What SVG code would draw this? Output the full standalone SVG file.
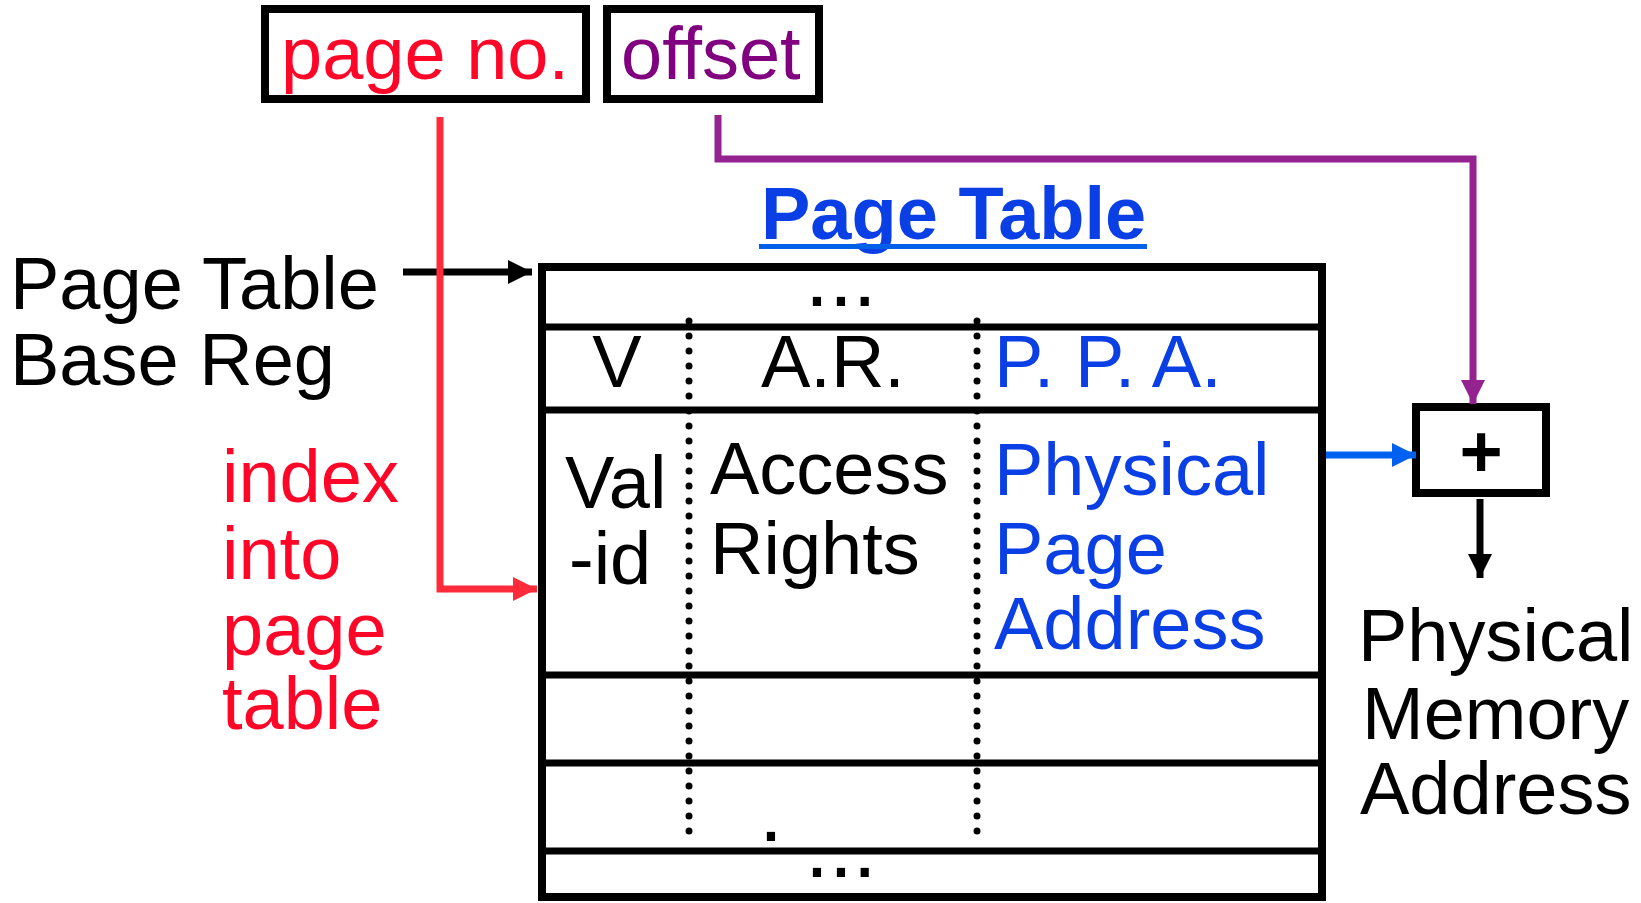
<svg xmlns="http://www.w3.org/2000/svg" width="1641" height="903" viewBox="0 0 1641 903">
<style>
text{font-family:"Liberation Sans",Arial,sans-serif;font-size:74px}
.blk{fill:#000}
.red{fill:#FF0527}
.pur{fill:#800080}
.blu{fill:#0B3FE6}
.box{fill:none;stroke:#000;stroke-width:8}
.row{stroke:#000;stroke-width:7}
.dot{stroke:#000;stroke-width:7;stroke-linecap:round;stroke-dasharray:0 15}
.ell{font-size:86px}
</style>
<defs>
<marker id="ah-k" markerWidth="24" markerHeight="24" refX="24" refY="12" orient="auto" markerUnits="userSpaceOnUse"><path d="M0,0 L24,12 L0,24 z" fill="#000"/></marker>
<marker id="ah-r" markerWidth="24" markerHeight="24" refX="24" refY="12" orient="auto" markerUnits="userSpaceOnUse"><path d="M0,0 L24,12 L0,24 z" fill="#FF2A3A"/></marker>
<marker id="ah-p" markerWidth="24" markerHeight="24" refX="24" refY="12" orient="auto" markerUnits="userSpaceOnUse"><path d="M0,0 L24,12 L0,24 z" fill="#942390"/></marker>
<marker id="ah-b" markerWidth="24" markerHeight="24" refX="24" refY="12" orient="auto" markerUnits="userSpaceOnUse"><path d="M0,0 L24,12 L0,24 z" fill="#0060F0"/></marker>
</defs>
<rect width="1641" height="903" fill="#fff"/>

<g id="page-no">
<rect class="box" x="265" y="9" width="321" height="90"/>
<text class="red" x="281" y="79">page no.</text>
</g>
<g id="offset">
<rect class="box" x="607" y="9" width="212" height="90"/>
<text class="pur" x="621" y="79">offset</text>
</g>

<g id="title">
<text class="blu" x="761" y="239" font-weight="bold">Page Table</text>
<rect x="759" y="244" width="388" height="5" fill="#0060E8"/>
</g>

<g id="ptbr-label">
<text class="blk" x="10" y="309">Page Table</text>
<text class="blk" x="10" y="385">Base Reg</text>
</g>

<g id="index-label">
<text class="red" x="222" y="502">index</text>
<text class="red" x="222" y="579">into</text>
<text class="red" x="222" y="655">page</text>
<text class="red" x="222" y="729">table</text>
</g>

<g id="page-table">
<rect class="box" x="542" y="267" width="780" height="630" stroke-width="7"/>
<line class="row" x1="542" y1="327" x2="1322" y2="327"/>
<line class="row" x1="542" y1="410" x2="1322" y2="410"/>
<line class="row" x1="542" y1="675" x2="1322" y2="675"/>
<line class="row" x1="542" y1="763" x2="1322" y2="763"/>
<line class="row" x1="542" y1="851" x2="1322" y2="851"/>
<line class="dot" x1="689" y1="321" x2="689" y2="840"/>
<line class="dot" x1="977" y1="321" x2="977" y2="845"/>
<text class="blk ell" x="805" y="306">...</text>
<text class="blk" x="617" y="387" text-anchor="middle">V</text>
<text class="blk" x="761" y="387">A.R.</text>
<text class="blu" x="994" y="387">P. P. A.</text>
<text class="blk" x="565" y="508">Val</text>
<text class="blk" x="569" y="584">-id</text>
<text class="blk" x="710" y="494">Access</text>
<text class="blk" x="710" y="574">Rights</text>
<text class="blu" x="994" y="495">Physical</text>
<text class="blu" x="994" y="574">Page</text>
<text class="blu" x="994" y="649">Address</text>
<text class="blk ell" x="759" y="841">.</text>
<text class="blk ell" x="805" y="877">...</text>
</g>

<g id="adder">
<rect class="box" x="1416" y="407" width="130" height="86"/>
<text class="blk" x="1481" y="477" text-anchor="middle" font-size="64" font-weight="bold">+</text>
</g>

<g id="pma-label">
<text class="blk" x="1358" y="661">Physical</text>
<text class="blk" x="1362" y="739">Memory</text>
<text class="blk" x="1360" y="814">Address</text>
</g>

<g id="connectors" fill="none" stroke-width="7">
<path d="M403,272 H532" stroke="#000" marker-end="url(#ah-k)"/>
<path d="M440,117 V589 H537" stroke="#FF2A3A" marker-end="url(#ah-r)"/>
<path d="M718,115 V159 H1473 V404" stroke="#942390" marker-end="url(#ah-p)"/>
<path d="M1326,455 H1416" stroke="#0060F0" marker-end="url(#ah-b)"/>
<path d="M1480,499 V578" stroke="#000" marker-end="url(#ah-k)"/>
</g>
</svg>
